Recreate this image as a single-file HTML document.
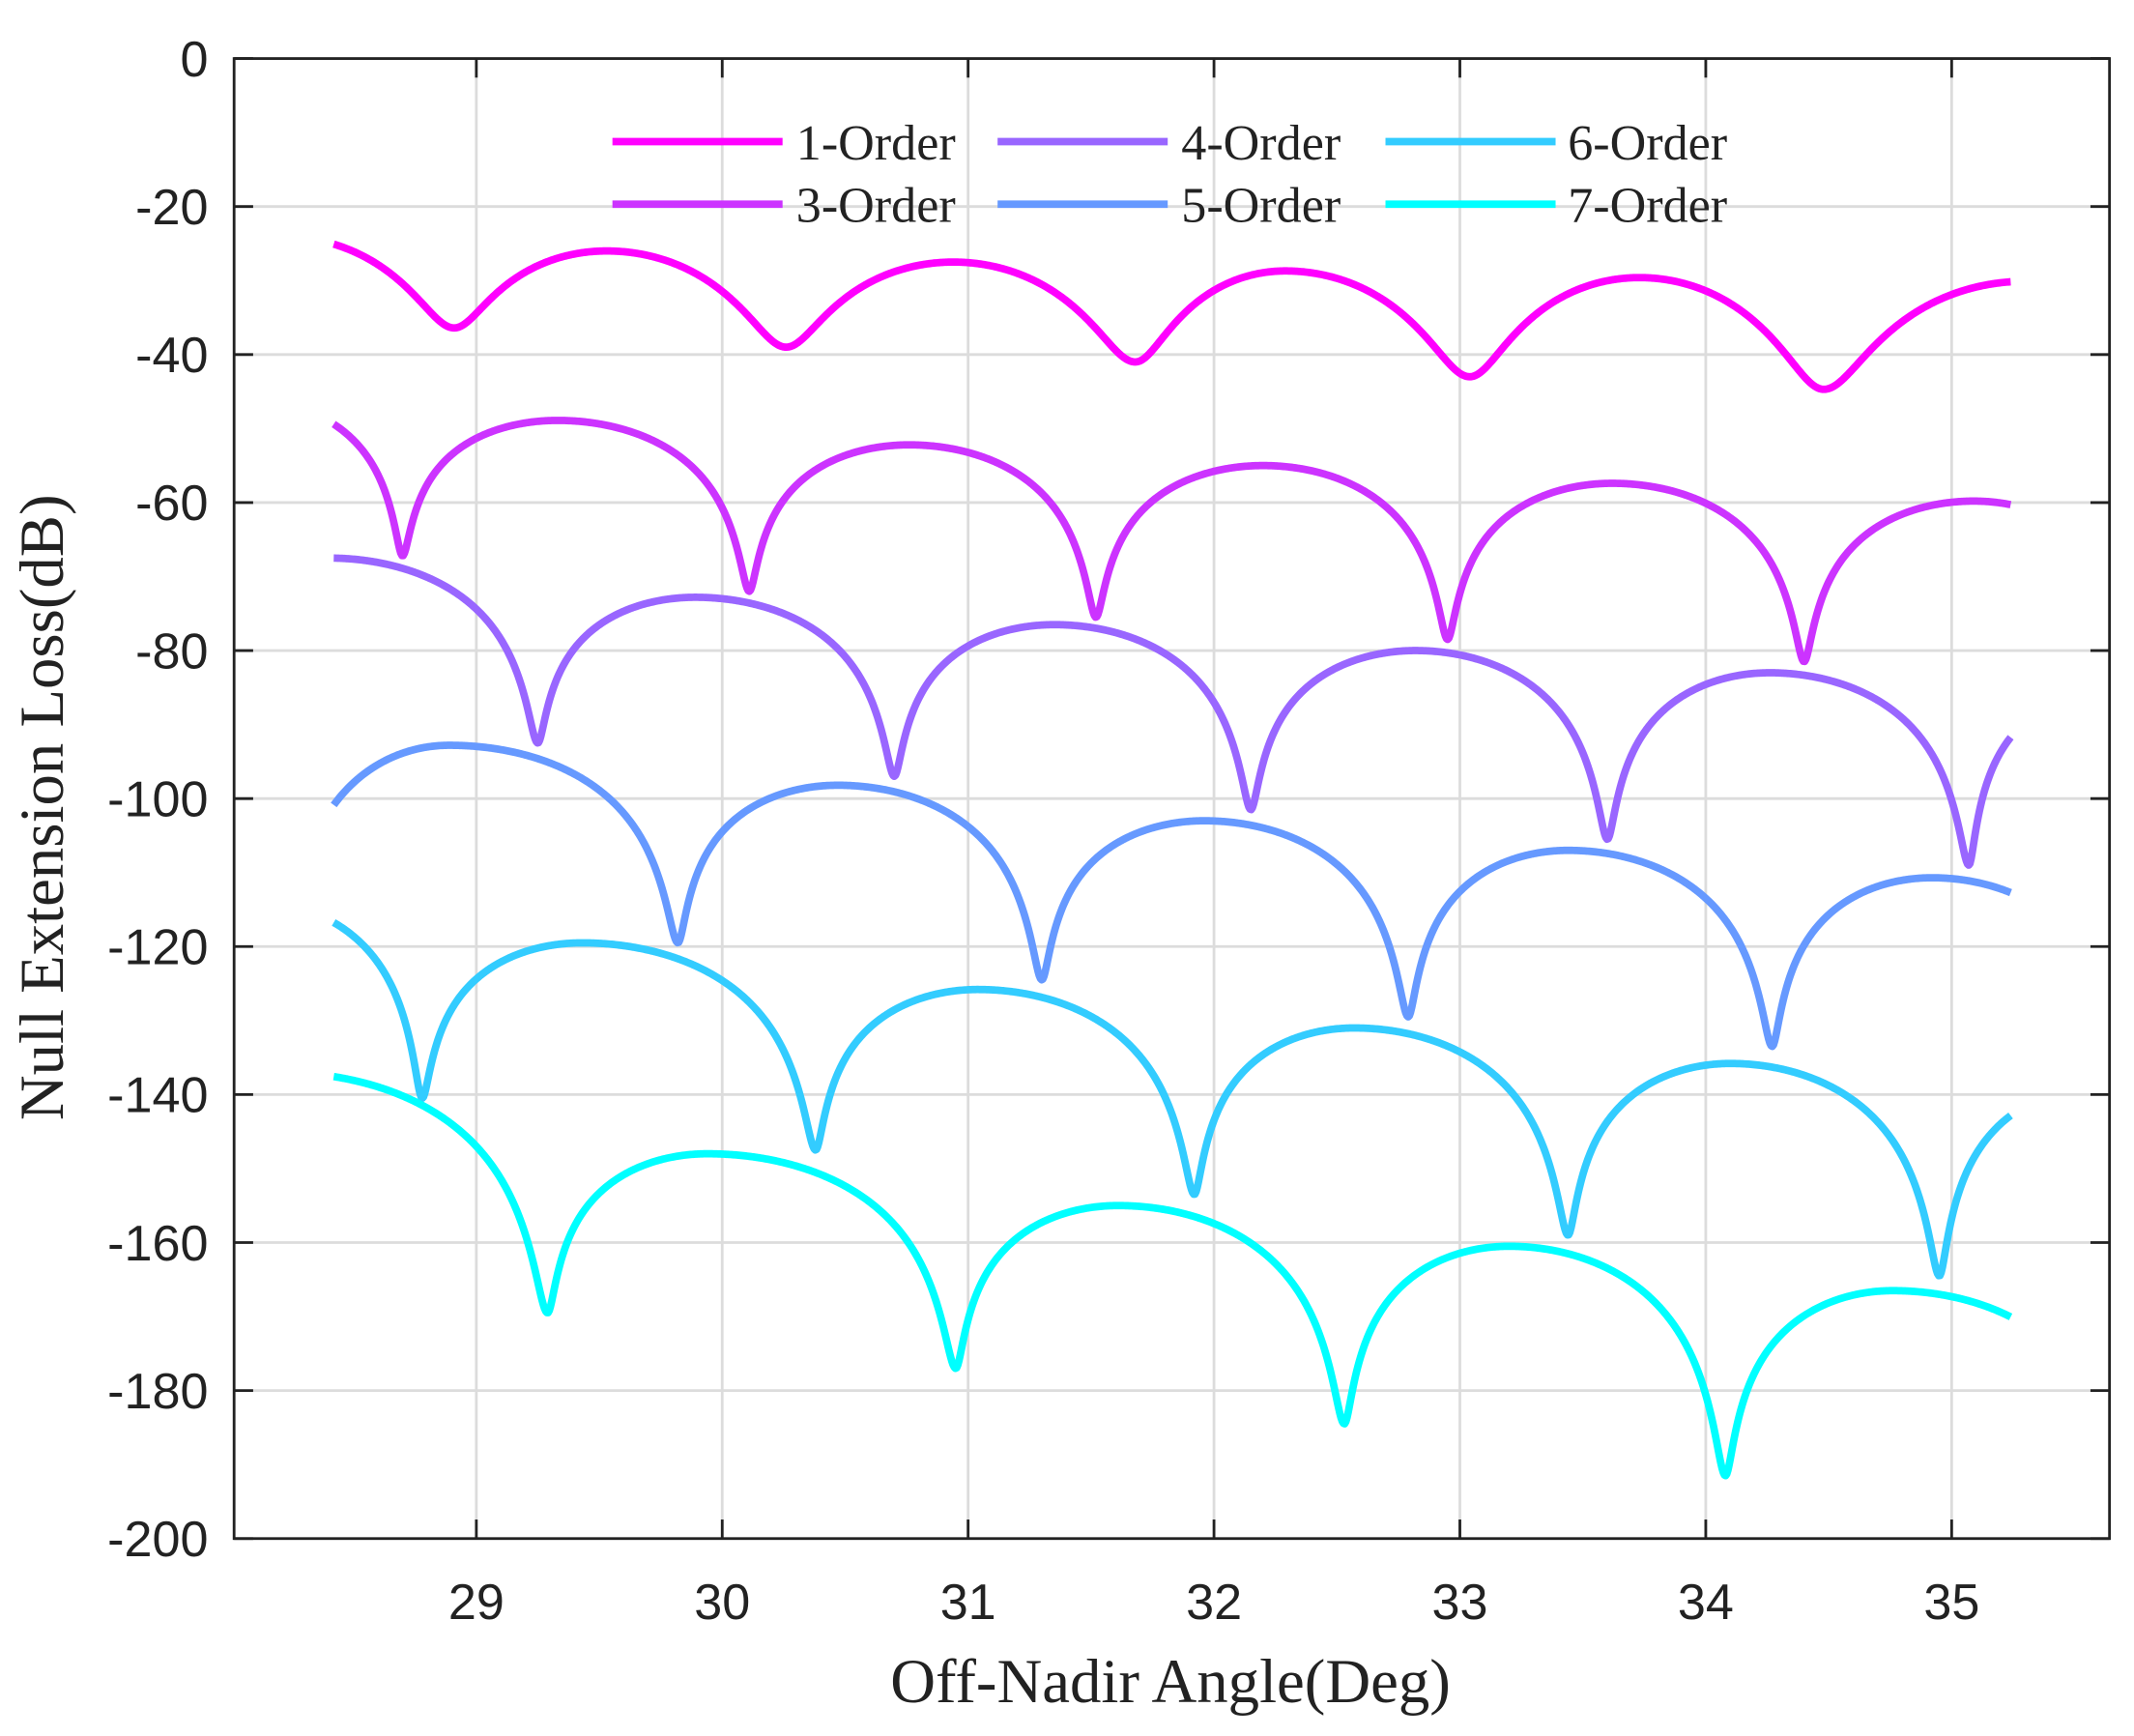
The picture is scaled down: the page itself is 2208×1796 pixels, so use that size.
<!DOCTYPE html>
<html><head><meta charset="utf-8"><style>
html,body{margin:0;padding:0;background:#fff}
svg{display:block}
text{fill:#222}
.t{font-family:"Liberation Sans",sans-serif;font-size:37px}
.s{font-family:"Liberation Serif",serif}
</style></head><body>
<svg id="c" width="2208" height="1796" viewBox="0 0 1568 1275" preserveAspectRatio="none" xmlns="http://www.w3.org/2000/svg">
<rect x="0" y="0" width="1568" height="1275" fill="#fff"/>
<g id="grid" stroke="#dcdcdc" stroke-width="2"></g>
<g id="series" fill="none" stroke-width="5.5" stroke-linejoin="round" stroke-linecap="butt"></g>
<rect x="172" y="43" width="1378" height="1087" fill="none" stroke="#222" stroke-width="2"/>
<g id="ticks" stroke="#222" stroke-width="2"></g>
<g id="labels"></g>
<g class="s" font-size="37">
<line x1="450" y1="104" x2="575" y2="104" stroke="#ff00ff" stroke-width="5.5"/><text x="585" y="117">1-Order</text>
<line x1="733" y1="104" x2="858" y2="104" stroke="#9966ff" stroke-width="5.5"/><text x="868" y="117">4-Order</text>
<line x1="1018" y1="104" x2="1143" y2="104" stroke="#33ccff" stroke-width="5.5"/><text x="1152" y="117">6-Order</text>
<line x1="450" y1="150" x2="575" y2="150" stroke="#cc33ff" stroke-width="5.5"/><text x="585" y="163">3-Order</text>
<line x1="733" y1="150" x2="858" y2="150" stroke="#6699ff" stroke-width="5.5"/><text x="868" y="163">5-Order</text>
<line x1="1018" y1="150" x2="1143" y2="150" stroke="#00ffff" stroke-width="5.5"/><text x="1152" y="163">7-Order</text>
</g>
<text class="s" font-size="46" x="860" y="1250" text-anchor="middle">Off-Nadir Angle(Deg)</text>
<text class="s" font-size="46" transform="translate(46,593) rotate(-90)" text-anchor="middle">Null Extension Loss(dB)</text>
</svg>
<script>
const NS="http://www.w3.org/2000/svg";
const X=d=>350+(d-29)*180.67, Y=v=>43-v*5.435;
const g=document.getElementById('grid'),tk=document.getElementById('ticks'),lb=document.getElementById('labels');
function el(p,t,a,txt){const e=document.createElementNS(NS,t);for(const k in a)e.setAttribute(k,a[k]);if(txt!==undefined)e.textContent=txt;p.appendChild(e);return e;}
for(let d=29;d<=35;d++){const x=X(d);el(g,'line',{x1:x,y1:43,x2:x,y2:1130});
el(tk,'line',{x1:x,y1:1130,x2:x,y2:1116});el(tk,'line',{x1:x,y1:43,x2:x,y2:57});
el(lb,'text',{x:x,y:1189,'text-anchor':'middle',class:'t'},String(d));}
for(let v=0;v>=-200;v-=20){const y=Y(v);if(v>-200&&v<0)el(g,'line',{x1:172,y1:y,x2:1550,y2:y});
el(tk,'line',{x1:172,y1:y,x2:186,y2:y});el(tk,'line',{x1:1550,y1:y,x2:1536,y2:y});
el(lb,'text',{x:153,y:y+13,'text-anchor':'end',class:'t'},String(v));}
const S=[
["#ff00ff",0.08,[[27.6,-38,'n'],[28.2,-24,'p'],[28.91,-36.4,'n'],[29.53,-26,'p'],[30.26,-39,'n'],[30.94,-27.5,'p'],[31.68,-41,'n'],[32.29,-28.7,'p'],[33.04,-43,'n'],[33.73,-29.6,'p'],[34.48,-44.7,'n'],[35.3,-30.1,'p'],[36,-46,'n']]],
["#cc33ff",0.003,[[27.5,-65,'n'],[28.05,-46,'p'],[28.70,-67.2,'n'],[29.33,-48.9,'p'],[30.11,-72,'n'],[30.76,-52.2,'p'],[31.52,-75.5,'n'],[32.2,-55,'p'],[32.95,-78.5,'n'],[33.62,-57.4,'p'],[34.40,-81.5,'n'],[35.09,-59.8,'p'],[35.8,-85,'n']]],
["#9966ff",0.003,[[27.7,-88,'n'],[28.4,-67.5,'p'],[29.25,-92.5,'n'],[29.89,-72.8,'p'],[30.70,-97,'n'],[31.35,-76.5,'p'],[32.15,-101.5,'n'],[32.82,-80,'p'],[33.6,-105.5,'n'],[34.26,-83,'p'],[35.07,-109,'n'],[35.6,-86,'p']]],
["#6699ff",0.003,[[28.2,-125,'n'],[28.89,-92.8,'p'],[29.82,-119.5,'n'],[30.47,-98.2,'p'],[31.30,-124.5,'n'],[31.96,-103,'p'],[32.79,-129.5,'n'],[33.44,-107,'p'],[34.27,-133.5,'n'],[34.92,-110.7,'p'],[35.7,-137,'n']]],
["#33ccff",0.003,[[27.5,-137,'n'],[28.1,-114,'p'],[28.78,-140.5,'n'],[29.43,-119.5,'p'],[30.38,-147.5,'n'],[31.04,-125.8,'p'],[31.92,-153.5,'n'],[32.57,-131,'p'],[33.44,-159,'n'],[34.10,-135.8,'p'],[34.95,-164.5,'n'],[35.6,-139,'p']]],
["#00ffff",0.003,[[27.5,-165,'n'],[28.2,-137,'p'],[29.29,-169.5,'n'],[29.94,-148,'p'],[30.95,-177,'n'],[31.61,-155,'p'],[32.53,-184.5,'n'],[33.2,-160.5,'p'],[34.08,-191.5,'n'],[34.76,-166.5,'p'],[35.7,-195,'n']]]
];
const sg=document.getElementById('series');
for(const [col,eps,K] of S){
 let d="";const x0=28.42,x1=35.24,N=1400;
 const L0=Math.log(1+eps),Le=Math.log(eps);
 for(let i=0;i<=N;i++){const x=x0+(x1-x0)*i/N;let j=0;while(j<K.length-2&&K[j+1][0]<x)j++;
  const a=K[j],b=K[j+1];let u,P,Nv;
  if(a[2]=='n'){u=0.5*(x-a[0])/(b[0]-a[0]);P=b[1];Nv=a[1];}else{u=0.5+0.5*(x-a[0])/(b[0]-a[0]);P=a[1];Nv=b[1];}
  const s=Math.sin(Math.PI*u);const gg=(Math.log(s*s+eps)-L0)/(Le-L0);
  const v=P+(Nv-P)*Math.max(0,gg);
  d+=(i?"L":"M")+X(x).toFixed(2)+","+Y(v).toFixed(2);}
 el(sg,'path',{d:d,stroke:col});}
</script>
</body></html>
